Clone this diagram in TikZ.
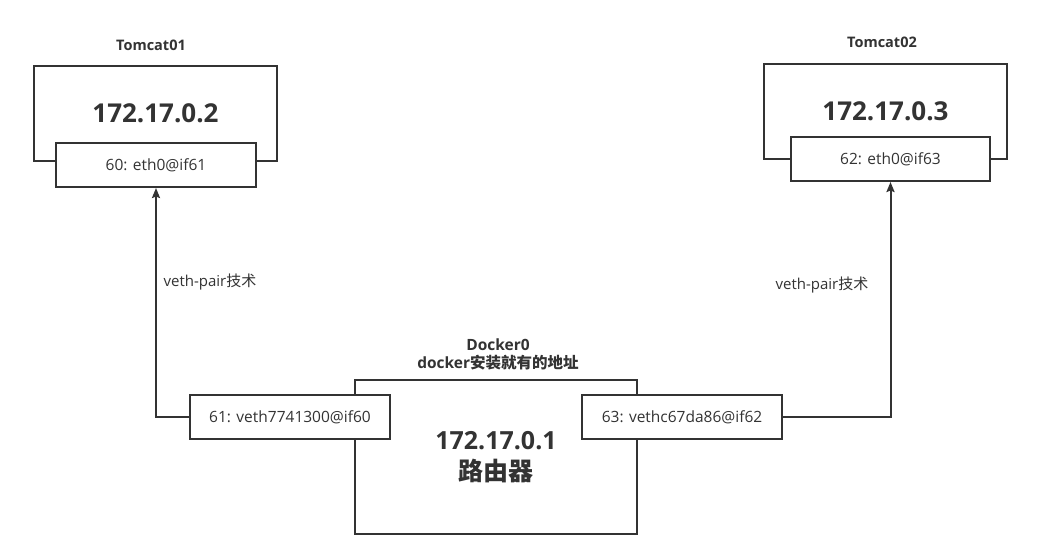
\documentclass[tikz,border=0pt]{standalone}
\usepackage{fontspec}
\setmainfont{Open Sans}
\newfontfamily\cjk{Noto Sans CJK SC}
\usetikzlibrary{arrows.meta}
\definecolor{ink}{HTML}{333333}
\tikzset{
  frame/.style={draw=ink, line width=2pt, fill=white, inner sep=0pt, text=ink},
  port/.style={frame, minimum width=200pt, minimum height=44pt, font=\fontsize{15.5}{18}\selectfont},
  title/.style={text=ink, font=\bfseries\fontsize{14.5}{18}\selectfont},
  link/.style={draw=ink, line width=2pt, -{Stealth[length=10pt,width=8pt,inset=1.5pt]}},
  lbl/.style={text=ink, font=\fontsize{15}{18}\selectfont},
  bignum/.style={font=\bfseries\fontsize{26}{30}\selectfont}
}
\begin{document}
\begin{tikzpicture}[x=1pt,y=-1pt]
\useasboundingbox[fill=white] (0,0) rectangle (1045,550);
% Tomcat01
\node[title] (t1) at (151,45) {Tomcat01};
\node[frame, bignum, minimum width=243pt, minimum height=95pt] (c1) at (155.5,113.5) {172.17.0.2};
\node[port] (e1) at (156,165) {60: eth0@if61};
% Tomcat02
\node[title] (t2) at (882,42) {Tomcat02};
\node[frame, bignum, minimum width=243pt, minimum height=95pt] (c2) at (885.5,111.5) {172.17.0.3};
\node[port, minimum width=199pt] (e2) at (890.5,159) {62: eth0@if63};
% Docker0
\node[title, align=center, font=\bfseries\fontsize{15.5}{18}\selectfont] (dt) at (498,354) {Docker0\\docker{\cjk 安装就有的地址}};
\node[frame, minimum width=282pt, minimum height=154pt, align=center, font=\bfseries\fontsize{25}{31}\selectfont] (d) at (496,457) {172.17.0.1\\{\cjk 路由器}};
\node[port] (p1) at (290,417) {61: veth7741300@if60};
\node[port] (p2) at (682,417) {63: vethc67da86@if62};
% links
\draw[link] (p1.west) -| (e1.south);
\draw[link] (p2.east) -| (e2.south);
\node[lbl] (l1) at (210,282) {veth-pair{\cjk 技术}};
\node[lbl] (l2) at (822,285) {veth-pair{\cjk 技术}};
\end{tikzpicture}
\end{document}
